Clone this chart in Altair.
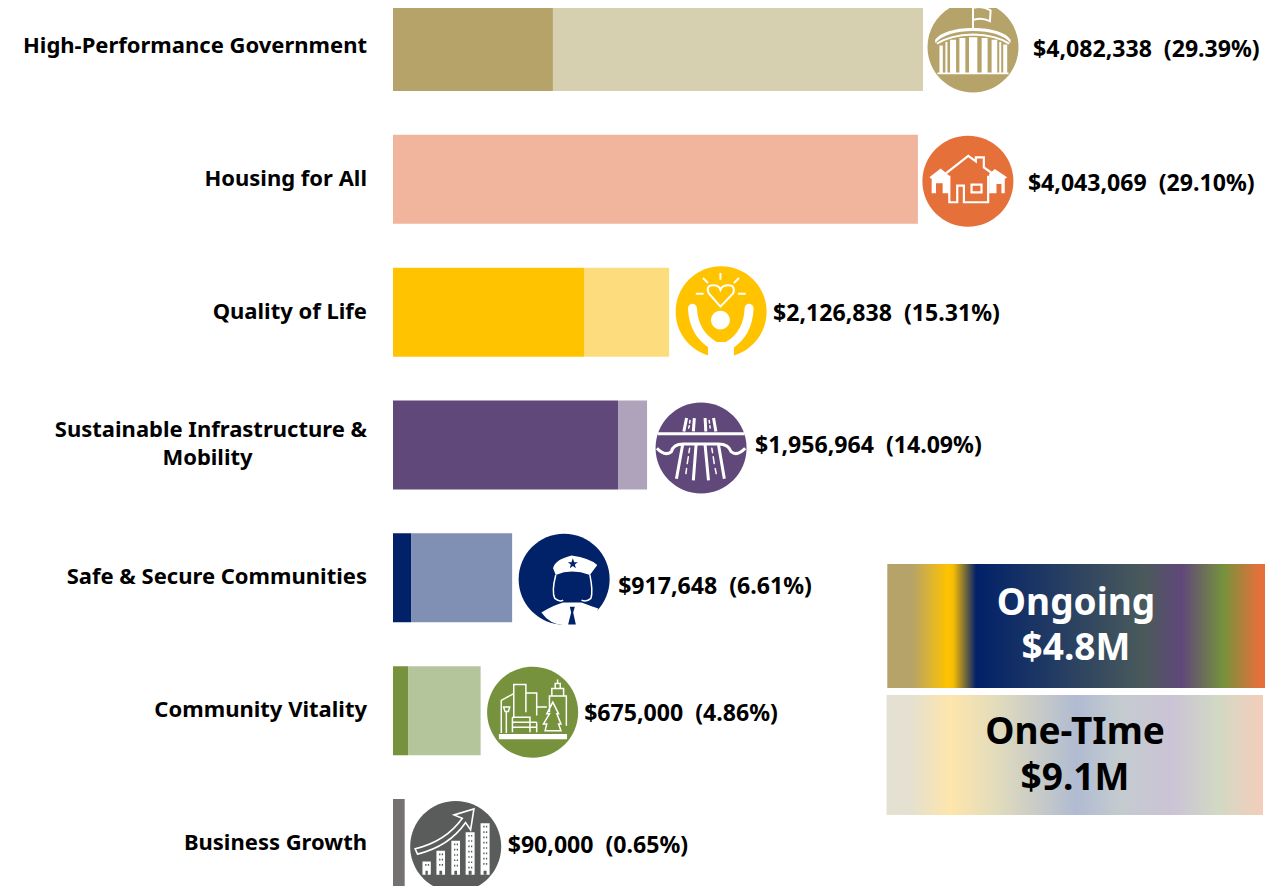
import re
import pandas as pd
import altair as alt

CATEGORIES = ["High-Performance Government", "Housing for All", "Quality of Life",
              "Sustainable Infrastructure &", "Safe & Secure Communities",
              "Community Vitality", "Business Growth"]
TOTALS = [4082338, 4043069, 2126838, 1956964, 917648, 675000, 90000]
ONGOING = [1232000, 0, 1471000, 1733000, 139000, 116000, 90000]
PERCENTS = ["29.39%", "29.10%", "15.31%", "14.09%", "6.61%", "4.86%", "0.65%"]
DARK = ["#b5a369", "#e5703a", "#ffc300", "#60487a", "#012169", "#76923c", "#767171"]
LIGHT = ["#d6cfb0", "#f1b49c", "#fddc7d", "#afa3bc", "#808fb4", "#b5c59b", "#767171"]
ICON_COLOR = ["#b5a369", "#e5703a", "#ffc300", "#60487a", "#012169", "#76923c", "#5a5c5c"]

ICON_DX = [50, 50, 52, 54, 52, 52, 51]
ICON_DY = [0.5, 2, -0.5, 3, 1.5, 1.5, 3]
VALUE_DX = [110, 110, 104, 108, 106, 103.5, 103]
VALUE_DY = [3, 4.5, 1.5, 0.5, 9.5, 3, 3]
NAME_DY = [-0.5, -0.5, 0, -15, -0.5, -1, 0]

ONGOING_STOPS = [(0, "#b5a369"), (0.065, "#b5a369"), (0.16, "#ffc300"), (0.175, "#f5bc05"),
                 (0.235, "#012169"), (0.68, "#4a5a5b"), (0.78, "#60487a"), (0.89, "#76923c"), (0.985, "#e5703a"), (1, "#e5703a")]
ONETIME_STOPS = [(0, "#e4e0d2"), (0.06, "#e4e0d2"), (0.17, "#fee5ab"), (0.29, "#e2dcbc"), (0.505, "#b0bbd2"),
                 (0.62, "#c4cbcf"), (0.76, "#cbc3d6"), (0.88, "#d1d9c4"), (1, "#f5cdbb")]

FONT = "Noto Sans"
W, H = 1257, 878
PX_PER_DOLLAR = 530 / 4082338
X0 = 385


def norm(d, cx, cy, r):
    toks = re.findall(r"[A-Za-z]|-?\d+\.?\d*", d)
    out, i = [], 0
    while i < len(toks):
        if toks[i].isalpha():
            out.append(toks[i])
            i += 1
        else:
            x = (float(toks[i]) - cx) / r
            y = (float(toks[i + 1]) - cy) / r
            out.append(f"{x:.3f} {y:.3f}")
            i += 2
    return " ".join(out)


def rect(x0, y0, x1, y1):
    return f"M{x0} {y0} L{x1} {y0} L{x1} {y1} L{x0} {y1} Z "


def blob(x, y, r):
    k = 0.55 * r
    return (f"M{x-r} {y} C{x-r} {y-k} {x-k} {y-r} {x} {y-r} C{x+k} {y-r} {x+r} {y-k} {x+r} {y} "
            f"C{x+r} {y+k} {x+k} {y+r} {x} {y+r} C{x-k} {y+r} {x-r} {y+k} {x-r} {y} Z ")


CIRCLE = "M-1 0 C-1 -0.552 -0.552 -1 0 -1 C0.552 -1 1 -0.552 1 0 C1 0.552 0.552 1 0 1 C-0.552 1 -1 0.552 -1 0 Z"

gov_f = (rect(216, 15, 222, 85) + "M105 118 Q130 85 219 82 Q310 85 332 118 L332 128 Q300 92 219 92 Q140 92 105 128 Z "
         + rect(112, 217, 326, 222)
         + "".join(rect(a, t, b, 218) for a, b, t in [(118, 128, 135), (136, 142, 125), (150, 168, 118), (178, 196, 113),
                                                     (207, 232, 111), (245, 263, 113), (275, 292, 118), (298, 304, 125), (310, 322, 132)]))
gov_s = "M222 22 Q245 15 272 30 L270 62 Q245 50 222 58 M110 130 Q150 104 219 102 Q290 104 328 130"
house_f = ("M88 530 L122 503 L140 518 L148 525 L148 578 L128 578 L128 548 L108 548 L108 578 L95 578 L95 535 Z "
           "M322 530 L285 505 L268 520 L268 578 L290 578 L290 550 L305 550 L305 578 L315 578 L315 535 Z")
house_s = ("M135 520 L205 465 L228 482 L228 470 L252 470 L252 500 L280 520 "
           "M148 525 L148 605 L172 605 L172 555 L192 555 L192 605 L265 605 L265 525 "
           "M215 552 L245 552 L245 575 L215 575 Z")
life_f = rect(143, 240, 220, 290) + blob(180, 175, 28)
life_s = ("M180 135 L145 95 Q135 72 160 72 Q175 72 180 85 Q185 72 203 72 Q225 72 218 95 Z "
          "M180 35 L180 55 M128 50 L143 65 M235 50 L220 65 M107 97 L130 97 M232 97 L255 97")
life_t = "M97 140 Q100 215 160 250 M265 140 Q262 215 205 250"
road_s = ("M-5 522 L252 522 M-8 565 Q15 590 35 575 Q40 552 70 552 L175 552 Q205 552 212 575 Q230 590 254 565 "
          "M72 515 L80 475 M100 515 L103 475 M137 515 L135 475 M167 515 L160 475 "
          "M50 655 L68 556 M100 660 L108 556 M145 660 L135 556 M192 655 L175 556")
road_t = ("M86 505 L88 498 M89 490 L90 482 M150 505 L149 498 M148 490 L147 482 "
          "M78 640 L80 625 M82 610 L85 590 M87 578 L89 565 M168 640 L165 625 M162 610 L159 590 M157 578 L155 565")
police_f = ("M490 130 Q495 105 545 92 Q600 100 622 120 L600 150 Q545 130 498 150 Z "
            "M455 262 Q490 240 520 232 L575 232 Q610 245 625 250 L610 285 Q570 300 523 300 Q480 298 455 262 Z")
police_s = "M498 150 Q485 200 495 220 Q510 232 520 225 M600 150 Q610 200 603 220 Q590 232 575 225"
police_d = ("M540 245 L555 245 L550 262 L558 298 L535 298 L544 262 Z "
            "M549 100 L553 112 L564 112 L555 119 L558 130 L549 123 L540 130 L543 119 L534 112 L545 112 Z "
            "M498 153 Q545 135 600 153 L600 210 Q590 225 550 228 Q510 225 500 210 Z")
city_f = rect(328, 625, 530, 640)
city_s = ("M335 622 L335 525 L372 505 L372 478 L408 478 L408 560 M372 505 L372 575 "
          "M408 503 L440 503 L440 570 M440 545 L470 545 M478 560 L478 512 L528 512 L528 600 "
          "M485 512 L485 490 L520 490 L520 512 M495 490 L495 475 L510 475 L510 490 M502 475 L502 463 "
          "M350 622 L350 560 M342 545 L360 545 L356 558 L346 558 Z "
          "M368 575 L420 575 L420 620 M368 590 L440 590 M368 605 L440 605 M368 575 L368 620 M440 590 L440 620 "
          "M488 530 L470 565 L478 565 L460 595 L470 595 L465 615 L512 615 L505 595 L512 595 L500 565 L505 565 Z")
BLDG = [(100, 1010, 125), (142, 978, 168), (187, 948, 213), (230, 922, 257), (275, 895, 302)]
grow_f = "".join(rect(a, t, b, 1050) for a, t, b in BLDG)
grow_s = "M78 972 Q170 950 220 880 L195 870 L255 852 L245 915 L230 893 Q180 965 85 988 Z"
grow_d = "".join(rect(a + 8, y, a + 12, y + 5) + rect(a + 16, y, a + 20, y + 5)
                 for a, t, b in BLDG for y in range(t + 8, 1030, 16)) + "".join(rect(a + 9, 1038, b - 9, 1050) for a, t, b in BLDG)

ICONS = [
    dict(c=(219, 140, 137), f=gov_f, s=gov_s, sw=2),
    dict(c=(204, 542, 137), f=house_f, s=house_s, sw=2.2),
    dict(c=(182, 150, 135), f=life_f, s=life_s, sw=2, t=life_t, tw=9),
    dict(c=(123, 564, 135), s=road_s, sw=3, t=road_t, tw=1.5),
    dict(c=(523, 163, 136), f=police_f, s=police_s, sw=1.5, d=police_d),
    dict(c=(428, 560, 135), f=city_f, s=city_s, sw=1.5),
    dict(c=(200, 965, 137), f=grow_f, s=grow_s, sw=1.6, d=grow_d),
]

y_scale = alt.Scale(type="band", domain=CATEGORIES, range=[-27.9, 901.9], paddingInner=0.33, paddingOuter=0.165)
x_scale = alt.Scale(domain=[-X0 / PX_PER_DOLLAR, (W - X0) / PX_PER_DOLLAR], nice=False, zero=False)
Y = alt.Y("category:N", scale=y_scale, axis=None)
X = alt.X("total:Q", scale=x_scale, axis=None)

segments = []
for cat, tot, on, dk, lt in zip(CATEGORIES, TOTALS, ONGOING, DARK, LIGHT):
    if on > 0:
        segments.append(dict(category=cat, start=0, end=on, col=dk))
    if tot > on:
        segments.append(dict(category=cat, start=on, end=tot, col=lt))

bars = alt.Chart(pd.DataFrame(segments)).mark_bar(strokeWidth=0).encode(
    x=alt.X("start:Q", scale=x_scale, axis=None), x2="end:Q", y=Y,
    fill=alt.Fill("col:N", scale=None))

layers = [bars]
for i, cat in enumerate(CATEGORIES):
    row = pd.DataFrame([dict(category=cat, total=TOTALS[i],
                             label=f"${TOTALS[i]:,}\u00a0\u00a0({PERCENTS[i]})")])
    ic = ICONS[i]
    offs = dict(xOffset=ICON_DX[i], yOffset=ICON_DY[i], opacity=1, size=8281)
    base = alt.Chart(row)
    enc = dict(x=X, y=Y)
    layers.append(base.mark_point(shape=CIRCLE, filled=True, fill=ICON_COLOR[i], strokeWidth=0, **offs).encode(**enc))
    cx, cy, r = ic["c"]
    if ic.get("f"):
        layers.append(base.mark_point(shape=norm(ic["f"], cx, cy, r), filled=True, fill="white", strokeWidth=0, **offs).encode(**enc))
    if ic.get("d"):
        layers.append(base.mark_point(shape=norm(ic["d"], cx, cy, r), filled=True, fill=ICON_COLOR[i], strokeWidth=0, **offs).encode(**enc))
    layers.append(base.mark_point(shape=norm(ic["s"], cx, cy, r), filled=False, stroke="white", strokeWidth=ic["sw"], **offs).encode(**enc))
    if ic.get("t"):
        layers.append(base.mark_point(shape=norm(ic["t"], cx, cy, r), filled=False, stroke="white", strokeWidth=ic["tw"], strokeCap="round", **offs).encode(**enc))
    layers.append(base.mark_text(align="left", baseline="middle", font=FONT, fontWeight=700, fontSize=23.1, color="#000000",
                                 dx=VALUE_DX[i], dy=VALUE_DY[i]).encode(x=X, y=Y, text="label:N"))
    layers.append(base.mark_text(align="right", baseline="middle", font=FONT, fontWeight=700, fontSize=22, color="#000000",
                                 dy=NAME_DY[i]).encode(x=alt.value(359), y=Y, text="category:N"))

mob = pd.DataFrame([dict(category=CATEGORIES[3], line="Mobility")])
layers.append(alt.Chart(mob).mark_text(align="center", baseline="middle", font=FONT, fontWeight=700, fontSize=22, color="#000000",
                                       dy=13).encode(x=alt.value(199.5), y=Y, text="line:N"))


def grad_box(stops, x0, x1, y0, y1):
    g = {"gradient": "linear", "x1": 0, "y1": 0, "x2": 1, "y2": 0,
         "stops": [{"offset": o, "color": c} for o, c in stops]}
    return alt.Chart(pd.DataFrame([{"a": 1}])).mark_rect(fill=g, strokeWidth=0).encode(
        x=alt.value(x0), x2=alt.value(x1), y=alt.value(y0), y2=alt.value(y1))


def box_text(txt, x, y, col):
    return alt.Chart(pd.DataFrame([{"t": txt}])).mark_text(align="center", baseline="middle", font=FONT, fontWeight=700,
                                                          fontSize=37, color=col).encode(
        x=alt.value(x), y=alt.value(y), text="t:N")


layers += [grad_box(ONGOING_STOPS, 879.3, 1257, 556, 680),
           grad_box(ONETIME_STOPS, 878.5, 1255, 687, 807),
           box_text("Ongoing", 1068, 596, "white"), box_text("$4.8M", 1068, 641, "white"),
           box_text("One-TIme", 1067, 725, "black"), box_text("$9.1M", 1067, 771, "black")]

chart = alt.layer(*layers).properties(
    width=W, height=H, padding=0, autosize=alt.AutoSizeParams(type="none"),
    background="white"
).configure_view(stroke=None)

chart.save("out.html", embed_options={"renderer": "svg", "actions": False})
